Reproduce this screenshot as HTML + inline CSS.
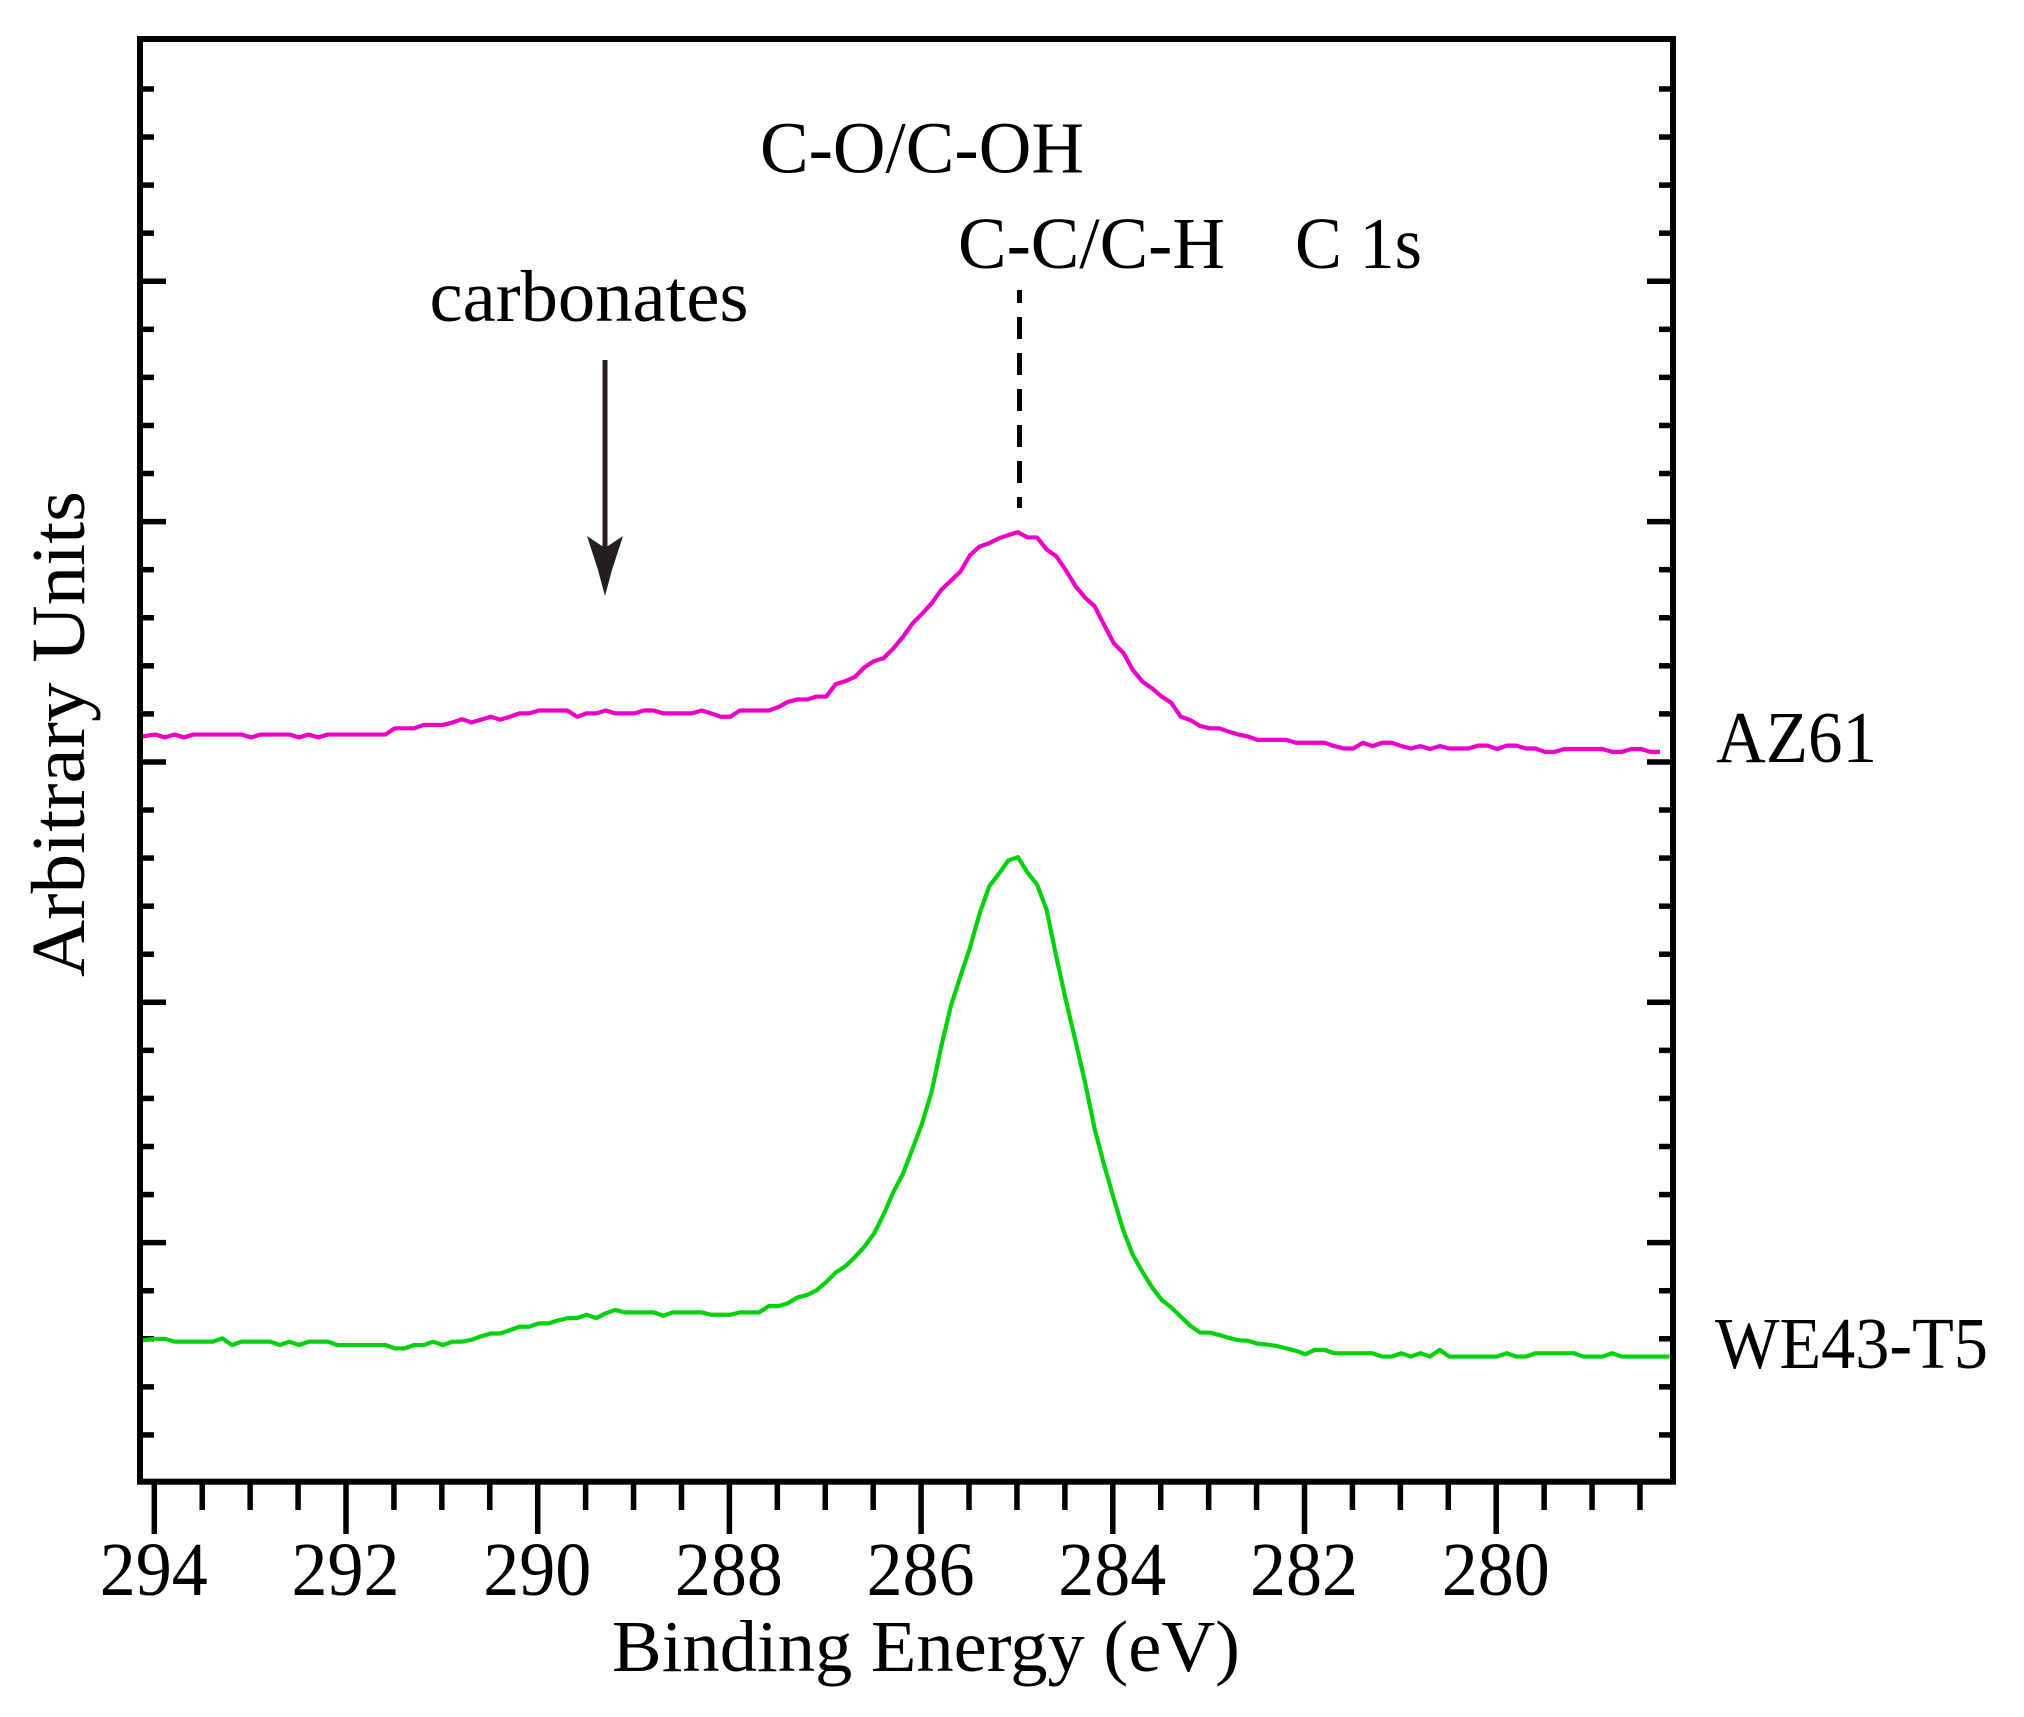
<!DOCTYPE html>
<html lang="en">
<head>
<meta charset="utf-8">
<title>C 1s XPS spectra</title>
<style>
html,body{margin:0;padding:0;background:#fff;}
svg{display:block;}
text{font-family:"Liberation Serif",serif;fill:#000;}
</style>
</head>
<body>
<svg id="chart" xmlns="http://www.w3.org/2000/svg" width="2024" height="1717" viewBox="0 0 2024 1717">
  <rect x="0" y="0" width="2024" height="1717" fill="#ffffff"/>
  <g id="ticks"></g>
  <g id="series"></g>
  <rect x="140" y="39" width="1533" height="1442.7" fill="none" stroke="#000" stroke-width="6"/>
  <g id="xlabels"></g>

  <text x="612" y="1671" font-size="73" textLength="628" lengthAdjust="spacingAndGlyphs">Binding Energy (eV)</text>
  <text transform="translate(84,977) rotate(-90)" font-size="76" textLength="486" lengthAdjust="spacingAndGlyphs">Arbitrary Units</text>

  <text x="760" y="172.5" font-size="73" textLength="324" lengthAdjust="spacingAndGlyphs">C-O/C-OH</text>
  <text x="958" y="268" font-size="73" textLength="267" lengthAdjust="spacingAndGlyphs">C-C/C-H</text>
  <text x="1295" y="268" font-size="73" textLength="127" lengthAdjust="spacingAndGlyphs">C 1s</text>
  <text x="429.5" y="321" font-size="73" textLength="319" lengthAdjust="spacingAndGlyphs">carbonates</text>
  <text x="1716" y="762" font-size="73" textLength="161" lengthAdjust="spacingAndGlyphs">AZ61</text>
  <text x="1715" y="1368" font-size="73" textLength="273" lengthAdjust="spacingAndGlyphs">WE43-T5</text>

  <line x1="1019.5" y1="290" x2="1019.5" y2="508" stroke="#000" stroke-width="5" stroke-dasharray="22 14" stroke-dashoffset="9"/>
  <line x1="605" y1="360" x2="605" y2="560" stroke="#231f20" stroke-width="5"/>
  <polygon points="587,536 605,548 623,536 612,570 605,596 598,570" fill="#231f20"/>
</svg>
<script>
var energies = [294.13,293.99,293.89,293.79,293.69,293.59,293.49,293.39,293.29,293.19,
293.09,292.99,292.89,292.79,292.69,292.59,292.49,292.39,292.29,292.19,
292.09,291.99,291.89,291.79,291.69,291.59,291.49,291.39,291.29,291.19,
291.09,290.99,290.89,290.79,290.69,290.59,290.49,290.39,290.29,290.19,
290.09,289.99,289.89,289.79,289.69,289.59,289.49,289.39,289.29,289.19,
289.09,288.99,288.89,288.79,288.69,288.59,288.49,288.39,288.29,288.19,
288.09,287.99,287.89,287.79,287.69,287.59,287.49,287.39,287.29,287.19,
287.09,286.99,286.89,286.79,286.69,286.59,286.49,286.39,286.29,286.19,
286.09,285.99,285.89,285.79,285.69,285.59,285.49,285.39,285.29,285.19,
285.09,284.99,284.89,284.79,284.69,284.59,284.49,284.39,284.29,284.19,
284.09,283.99,283.89,283.79,283.69,283.59,283.49,283.39,283.29,283.19,
283.09,282.99,282.89,282.79,282.69,282.59,282.49,282.39,282.29,282.19,
282.09,281.99,281.89,281.79,281.69,281.59,281.49,281.39,281.29,281.19,
281.09,280.99,280.89,280.79,280.69,280.59,280.49,280.39,280.29,280.19,
280.09,279.99,279.89,279.79,279.69,279.59,279.49,279.39,279.29,279.19,
279.09,278.99,278.89,278.79,278.69,278.59,278.49,278.39,278.29,278.19];

var az61 = [15.53,15.57,15.51,15.57,15.51,15.57,15.57,15.57,15.57,15.57,
15.57,15.51,15.57,15.57,15.57,15.57,15.51,15.57,15.51,15.57,
15.57,15.57,15.57,15.57,15.57,15.57,15.70,15.70,15.70,15.77,
15.77,15.77,15.82,15.89,15.82,15.88,15.94,15.88,15.94,16.01,
16.01,16.07,16.07,16.07,16.07,15.94,16.01,16.01,16.07,16.01,
16.01,16.01,16.07,16.07,16.01,16.01,16.01,16.01,16.07,16.01,
15.94,15.94,16.07,16.07,16.07,16.07,16.14,16.25,16.30,16.30,
16.36,16.36,16.62,16.68,16.77,16.97,17.10,17.16,17.36,17.60,
17.88,18.08,18.30,18.58,18.77,18.96,19.30,19.48,19.55,19.65,
19.72,19.78,19.67,19.67,19.42,19.28,18.99,18.66,18.42,18.24,
17.85,17.47,17.27,16.91,16.67,16.53,16.36,16.23,15.94,15.87,
15.75,15.70,15.70,15.63,15.57,15.53,15.46,15.46,15.46,15.46,
15.40,15.40,15.40,15.40,15.33,15.28,15.28,15.40,15.33,15.40,
15.40,15.33,15.28,15.33,15.27,15.33,15.28,15.28,15.28,15.34,
15.34,15.27,15.34,15.34,15.28,15.28,15.21,15.21,15.27,15.27,
15.27,15.27,15.27,15.21,15.21,15.27,15.27,15.21,15.21];

var we43t5 = [2.97,3.00,3.00,2.94,2.94,2.94,2.94,2.94,3.01,2.87,
2.94,2.94,2.94,2.94,2.87,2.94,2.87,2.94,2.94,2.94,
2.87,2.87,2.87,2.87,2.87,2.87,2.80,2.80,2.87,2.87,
2.94,2.87,2.94,2.94,2.98,3.05,3.11,3.11,3.18,3.25,
3.25,3.32,3.32,3.38,3.43,3.43,3.50,3.43,3.53,3.60,
3.55,3.55,3.55,3.55,3.48,3.55,3.55,3.55,3.55,3.50,
3.50,3.50,3.55,3.55,3.55,3.68,3.68,3.74,3.86,3.91,
4.01,4.18,4.38,4.51,4.70,4.92,5.19,5.59,6.05,6.43,
6.95,7.48,8.14,9.08,9.92,10.54,11.14,11.84,12.41,12.67,
12.95,13.02,12.70,12.45,11.92,10.95,10.05,9.20,8.34,7.37,
6.61,5.92,5.25,4.74,4.39,4.07,3.81,3.65,3.46,3.27,
3.13,3.13,3.08,3.02,2.97,2.96,2.90,2.88,2.85,2.80,
2.75,2.68,2.77,2.77,2.70,2.70,2.70,2.70,2.70,2.63,
2.63,2.70,2.63,2.70,2.63,2.77,2.63,2.63,2.63,2.63,
2.63,2.63,2.70,2.63,2.63,2.70,2.70,2.70,2.70,2.70,
2.63,2.63,2.63,2.70,2.63,2.63,2.63,2.63,2.63,2.63];

var xMajorTicks = [294,292,290,288,286,284,282,280];
var xMinorTicks = [293.5,293,292.5,291.5,291,290.5,289.5,289,288.5,287.5,287,286.5,285.5,285,284.5,283.5,283,282.5,281.5,281,280.5,279.5,279,278.5];
var yMajorTicks = [5,10,15,20,25];
var yMinorTicks = [1,2,3,4,6,7,8,9,11,12,13,14,16,17,18,19,21,22,23,24,26,27,28,29];

var SVGNS = 'http://www.w3.org/2000/svg';
function xScale(e) { return 154.3 + (294 - e) * 95.85; }
function yScale(u) { return 1483 - u * 48.07; }

function tickLine(parent, x1, y1, x2, y2, width) {
  var l = document.createElementNS(SVGNS, 'line');
  l.setAttribute('x1', x1);
  l.setAttribute('y1', y1);
  l.setAttribute('x2', x2);
  l.setAttribute('y2', y2);
  l.setAttribute('stroke', '#000');
  l.setAttribute('stroke-width', width);
  parent.appendChild(l);
  return l;
}

var tickGroup = document.getElementById('ticks');
var labelGroup = document.getElementById('xlabels');
var seriesGroup = document.getElementById('series');

xMajorTicks.forEach(function (e) {
  var t = tickLine(tickGroup, xScale(e), 1481, xScale(e), 1534, 5.5);
  
  
  var label = document.createElementNS(SVGNS, 'text');
  label.setAttribute('x', xScale(e) - 54.5);
  label.setAttribute('y', 1595);
  label.setAttribute('font-size', '76');
  label.setAttribute('textLength', '108');
  label.setAttribute('lengthAdjust', 'spacingAndGlyphs');
  label.textContent = String(e);
  
  
  labelGroup.appendChild(label);
});

xMinorTicks.forEach(function (e) {
  var t = tickLine(tickGroup, xScale(e), 1481, xScale(e), 1510, 5.5);
  
  
});

yMajorTicks.forEach(function (u) {
  var a = tickLine(tickGroup, 140, yScale(u), 166, yScale(u), 5.5);
  
  
  var b = tickLine(tickGroup, 1647, yScale(u), 1673, yScale(u), 5.5);
  
  
});

yMinorTicks.forEach(function (u) {
  var a = tickLine(tickGroup, 140, yScale(u), 154, yScale(u), 5.5);
  
  
  var b = tickLine(tickGroup, 1659, yScale(u), 1673, yScale(u), 5.5);
  
  
});

function pointsFor(values) {
  return values.map(function (v, i) {
    return xScale(energies[i]).toFixed(2) + ',' + yScale(v).toFixed(2);
  }).join(' ');
}

var lineAz = document.createElementNS(SVGNS, 'polyline');
lineAz.setAttribute('points', pointsFor(az61));
lineAz.setAttribute('fill', 'none');
lineAz.setAttribute('stroke', '#ec00c8');
lineAz.setAttribute('stroke-width', '4.2');
lineAz.setAttribute('stroke-linejoin', 'round');


seriesGroup.appendChild(lineAz);

var lineWe = document.createElementNS(SVGNS, 'polyline');
lineWe.setAttribute('points', pointsFor(we43t5));
lineWe.setAttribute('fill', 'none');
lineWe.setAttribute('stroke', '#00d20a');
lineWe.setAttribute('stroke-width', '4.2');
lineWe.setAttribute('stroke-linejoin', 'round');


seriesGroup.appendChild(lineWe);
</script>
</body>
</html>
